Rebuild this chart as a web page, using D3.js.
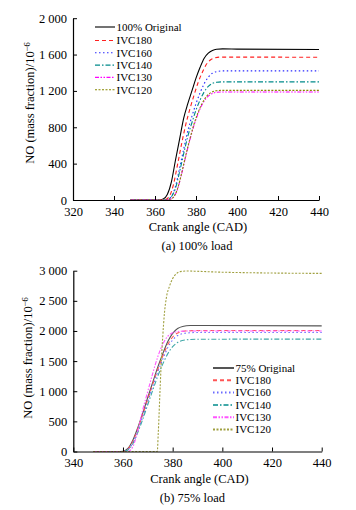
<!DOCTYPE html>
<html>
<head>
<meta charset="utf-8">
<script src="https://cdn.jsdelivr.net/npm/d3@7"></script>
<style>
  body { margin: 0; background: #fff; }
  svg { display: block; }
  text { font-family: "Liberation Serif", "Times New Roman", serif; fill: #000; }
</style>
</head>
<body>
<svg id="chart" width="356" height="510"></svg>
<script>
// ---- panel (a): 100% load ----
const fullTicksX = [320, 340, 360, 380, 400, 420, 440];
const fullTicksY = [0, 400, 800, 1200, 1600, 2000];
const fullNames = ["100% Original", "IVC180", "IVC160", "IVC140", "IVC130", "IVC120"];

const fullOriginal = [[348,0],[362,0],[364,10],[366,60],[368,200],[370,440],[372,670],[374,900],[376,1060],[378,1200],[380,1340],[382,1460],[384,1560],[386,1615],[388,1645],[390,1658],[393,1662],[400,1660],[440,1655]];
const fullIvc180 = [[348,0],[363,0],[365,5],[367,40],[369,170],[371,390],[373,620],[375,830],[377,1000],[379,1150],[381,1290],[383,1400],[385,1490],[387,1540],[389,1562],[392,1572],[400,1572],[440,1570]];
const fullIvc160 = [[348,0],[364,0],[366,5],[368,40],[370,150],[372,350],[374,560],[376,760],[378,920],[380,1060],[382,1180],[384,1280],[386,1350],[388,1395],[390,1412],[393,1420],[440,1420]];
const fullIvc140 = [[348,0],[364,0],[366,5],[368,35],[370,130],[372,310],[374,510],[376,700],[378,850],[380,990],[382,1100],[384,1190],[386,1250],[388,1282],[390,1295],[394,1300],[440,1300]];
const fullIvc130 = [[348,0],[365,0],[367,5],[369,30],[371,120],[373,290],[375,480],[377,660],[379,820],[381,950],[383,1050],[385,1120],[387,1160],[389,1180],[392,1188],[440,1188]];
const fullIvc120 = [[348,0],[365,0],[367,5],[369,32],[371,125],[373,295],[375,490],[377,670],[379,832],[381,962],[383,1064],[385,1136],[387,1178],[389,1198],[392,1206],[440,1206]];

// ---- panel (b): 75% load ----
const partTicksX = [340, 360, 380, 400, 420, 440];
const partTicksY = [0, 500, 1000, 1500, 2000, 2500, 3000];
const partNames = ["75% Original", "IVC180", "IVC160", "IVC140", "IVC130", "IVC120"];

const partOriginal = [[348,0],[358,0],[360,5],[362,50],[364,190],[366,400],[368,640],[370,900],[372,1150],[374,1400],[376,1620],[378,1820],[380,1960],[382,2040],[384,2075],[387,2090],[392,2090],[440,2085]];
const partIvc180 = [[348,0],[360,0],[362,40],[364,170],[366,380],[368,620],[370,870],[372,1120],[374,1360],[376,1580],[378,1770],[380,1900],[382,1965],[385,2000],[390,2007],[440,2007]];
const partIvc160 = [[348,0],[360,0],[362,30],[364,150],[366,350],[368,580],[370,830],[372,1080],[374,1320],[376,1530],[378,1720],[380,1850],[382,1925],[385,1962],[390,1975],[440,1975]];
const partIvc140 = [[348,0],[360,0],[362,25],[364,130],[366,320],[368,540],[370,780],[372,1020],[374,1250],[376,1450],[378,1620],[380,1740],[382,1810],[385,1850],[390,1863],[440,1865]];
const partIvc130 = [[348,0],[362,0],[364,80],[366,350],[368,700],[370,1000],[372,1300],[374,1570],[376,1780],[378,1910],[380,1970],[383,1995],[388,2000],[440,2000]];
const partIvc120 = [[348,0],[373.8,0],[374.2,300],[375,1100],[375.5,1550],[376,1900],[376.7,2300],[377.5,2560],[378.7,2740],[380,2870],[381.5,2950],[383,2985],[386,2995],[390,2990],[400,2975],[440,2955]];

const svg = d3.select("#chart");

const styles = [
  { color: "#000000", dash: null },
  { color: "#ff2020", dash: "4,3" },
  { color: "#2a2aff", dash: "1.5,2.5" },
  { color: "#008a8a", dash: "5,2,1.5,2" },
  { color: "#ff00ff", dash: "4,1.5,1.5,1.5,1.5,1.5" },
  { color: "#888800", dash: "2,1.5" }
];

const stylesLight = [
  { color: "#555555", dash: null },
  { color: "#ff5555", dash: "4,3" },
  { color: "#6a6aff", dash: "1.5,2.5" },
  { color: "#40a8a8", dash: "5,2,1.5,2" },
  { color: "#ff55ff", dash: "4,1.5,1.5,1.5,1.5,1.5" },
  { color: "#a0a040", dash: "2,1.5" }
];

function fmt(v) {
  return v >= 1000 ? d3.format(",")(v).replace(",", " ") : String(v);
}

function drawPanel(p) {
  const g = svg.append("g");
  const x = d3.scaleLinear().domain(p.xDomain).range(p.xRange);
  const y = d3.scaleLinear().domain(p.yDomain).range(p.yRange);

  const line = d3.line()
    .x(d => x(d[0]))
    .y(d => y(d[1]))
    .curve(d3.curveMonotoneX);

  p.series.forEach((s, i) => {
    g.append("path")
      .datum(s)
      .attr("fill", "none")
      .attr("stroke", p.styles[i].color)
      .attr("stroke-width", 1.1)
      .attr("stroke-dasharray", p.styles[i].dash)
      .attr("d", line);
  });

  // axes, ticks inward
  const xAxis = g.append("g")
    .attr("transform", `translate(0,${p.yRange[0]})`)
    .call(d3.axisBottom(x).tickValues(p.ticksX).tickSizeInner(-4).tickSizeOuter(0).tickPadding(7));
  const yAxis = g.append("g")
    .attr("transform", `translate(${p.xRange[0]},0)`)
    .call(d3.axisLeft(y).tickValues(p.ticksY).tickFormat(fmt).tickSizeInner(-4).tickSizeOuter(0).tickPadding(6));

  [xAxis, yAxis].forEach(a => {
    a.select(".domain").attr("stroke", "#000").attr("stroke-width", 1.2);
    a.selectAll(".tick line").attr("stroke", "#000").attr("stroke-width", 1);
    a.selectAll("text")
      .attr("font-family", "Liberation Serif, serif")
      .attr("font-size", 12.5)
      .attr("fill", "#000");
  });

  // legend
  p.names.forEach((name, i) => {
    const ly = p.legend.y + (i > 0 ? p.legend.gap0 + (i - 1) * p.legend.gap : 0);
    g.append("line")
      .attr("x1", p.legend.x1).attr("x2", p.legend.x2)
      .attr("y1", ly).attr("y2", ly)
      .attr("stroke", p.styles[i].color)
      .attr("stroke-width", p.legend.width)
      .attr("stroke-dasharray", p.styles[i].dash);
    g.append("text")
      .attr("x", p.legend.x2 + 1.5)
      .attr("y", ly)
      .attr("dy", "0.35em")
      .attr("font-size", 11)
      .text(name);
  });

  const cx = (p.xRange[0] + p.xRange[1]) / 2 + 2;
  g.append("text")
    .attr("x", cx).attr("y", p.titleY)
    .attr("text-anchor", "middle")
    .attr("font-size", 12.5)
    .text("Crank angle (CAD)");
  g.append("text")
    .attr("x", cx - p.captionShift).attr("y", p.titleY + 18.5)
    .attr("text-anchor", "middle")
    .attr("font-size", 12.5)
    .text(p.caption);

  g.append("text")
    .attr("transform", `translate(${p.yLabelX},${p.yLabelY}) rotate(-90)`)
    .attr("text-anchor", "middle")
    .attr("font-size", 12.5)
    .html("NO (mass fraction)/10<tspan dy='-4' font-size='8.5'>−6</tspan>");
}

drawPanel({
  xDomain: [320, 440], xRange: [73, 319],
  yDomain: [0, 2000], yRange: [200, 18.2],
  ticksX: fullTicksX, ticksY: fullTicksY,
  series: [fullOriginal, fullIvc180, fullIvc160, fullIvc140, fullIvc130, fullIvc120],
  names: fullNames, styles: styles,
  legend: { x1: 95, x2: 115, y: 27, gap0: 13.5, gap: 12.3, width: 1.1 },
  titleY: 231, caption: "(a) 100% load", captionShift: 1,
  yLabelX: 34, yLabelY: 103
});

drawPanel({
  xDomain: [340, 440], xRange: [73.3, 321.7],
  yDomain: [0, 3000], yRange: [451.5, 270.7],
  ticksX: partTicksX, ticksY: partTicksY,
  series: [partOriginal, partIvc180, partIvc160, partIvc140, partIvc130, partIvc120],
  names: partNames, styles: stylesLight,
  legend: { x1: 213, x2: 234, y: 368, gap0: 12.3, gap: 12.3, width: 2 },
  titleY: 483, caption: "(b) 75% load", captionShift: 7,
  yLabelX: 32, yLabelY: 358
});
</script>
</body>
</html>
